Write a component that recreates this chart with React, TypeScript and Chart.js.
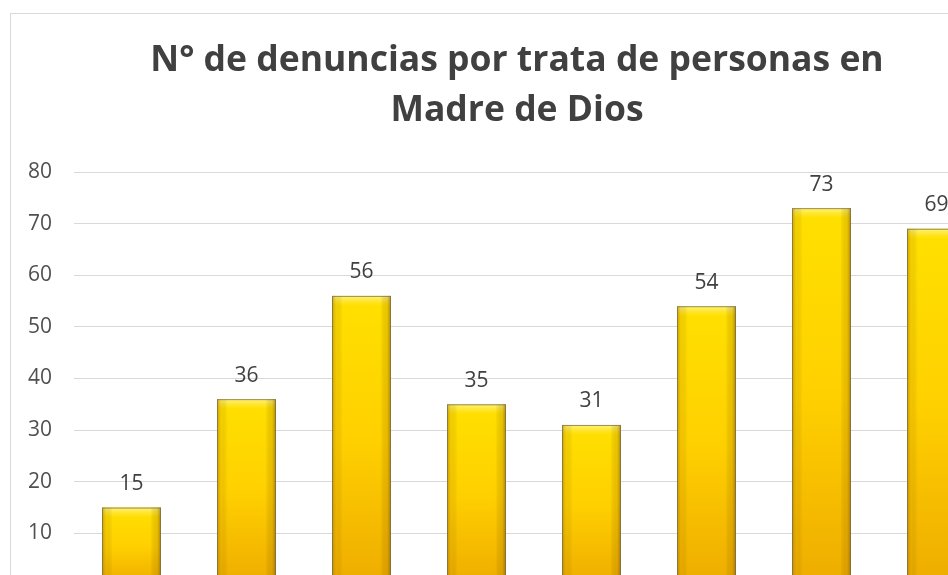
import React, { useEffect, useRef } from "react";
import { Chart, registerables } from "chart.js";

Chart.register(...registerables);

const categories = ["2010", "2011", "2012", "2013", "2014", "2015", "2016", "2017"];
const values = [15, 36, 56, 35, 31, 54, 73, 69];
const titleLines = ["N° de denuncias por trata de personas en", "Madre de Dios"];
const yMin = 0;
const yMax = 80;
const yStep = 10;

const barStyle = {
  id: "barStyle",
  afterDatasetsDraw(chart: any) {
    const ctx = chart.ctx;
    const meta = chart.getDatasetMeta(0);
    meta.data.forEach((bar: any) => {
      const { x, y, base, width } = bar.getProps(["x", "y", "base", "width"], true);
      const left = x - width / 2;
      const h = base - y;
      ctx.save();
      const vg = ctx.createLinearGradient(0, y, 0, base);
      vg.addColorStop(0, "#FFE000");
      vg.addColorStop(0.5, "#FFD000");
      vg.addColorStop(1, "#EEAC00");
      ctx.fillStyle = vg;
      ctx.fillRect(left, y, width, h);
      const tg = ctx.createLinearGradient(0, y, 0, y + 10);
      tg.addColorStop(0, "rgba(255,248,170,0.75)");
      tg.addColorStop(1, "rgba(255,240,100,0)");
      ctx.fillStyle = tg;
      ctx.fillRect(left, y, width, 10);
      const hg = ctx.createLinearGradient(left, 0, left + width, 0);
      hg.addColorStop(0, "rgba(140,95,0,0.5)");
      hg.addColorStop(0.07, "rgba(190,140,0,0.18)");
      hg.addColorStop(0.18, "rgba(0,0,0,0)");
      hg.addColorStop(0.82, "rgba(0,0,0,0)");
      hg.addColorStop(0.93, "rgba(160,110,0,0.22)");
      hg.addColorStop(1, "rgba(110,75,0,0.6)");
      ctx.fillStyle = hg;
      ctx.fillRect(left, y, width, h);
      ctx.strokeStyle = "rgba(120,110,80,0.75)";
      ctx.lineWidth = 1;
      ctx.strokeRect(left + 0.5, y + 0.5, width - 1, h);
      ctx.restore();
    });
  },
};

const dataLabels = {
  id: "dataLabels",
  afterDatasetsDraw(chart: any) {
    const ctx = chart.ctx;
    const meta = chart.getDatasetMeta(0);
    const ds = chart.data.datasets[0];
    ctx.save();
    ctx.font = "21px 'Open Sans'";
    ctx.fillStyle = "#404040";
    ctx.textAlign = "center";
    ctx.textBaseline = "alphabetic";
    meta.data.forEach((bar: any, i: number) => {
      const { x, y } = bar.getProps(["x", "y"], true);
      ctx.fillText(String(ds.data[i]), x, y - 17.5);
    });
    ctx.restore();
  },
};

export default function App() {
  const ref = useRef<HTMLCanvasElement | null>(null);
  useEffect(() => {
    if (!ref.current) return;
    const chart = new Chart(ref.current, {
      type: "bar",
      data: {
        labels: categories,
        datasets: [
          {
            data: values,
            backgroundColor: "#F8C800",
            borderWidth: 0,
            barPercentage: 0.513,
            categoryPercentage: 1,
          },
        ],
      },
      options: {
        responsive: false,
        animation: false,
        devicePixelRatio: 1,
        layout: { padding: { left: 0, right: 0, top: 0, bottom: 29 } },
        plugins: {
          legend: { display: false },
          tooltip: { enabled: false },
          title: {
            display: true,
            text: titleLines,
            color: "#404040",
            font: { family: "'Open Sans'", size: 35.5, weight: "bold", lineHeight: 50 / 35.5 },
            padding: { top: 22, bottom: 36 },
          },
        },
        scales: {
          x: {
            grid: { display: false },
            border: { display: true, color: "#d9d9d9" },
            ticks: { color: "#595959", font: { family: "'Open Sans'", size: 21 } },
            afterFit: (s: any) => {
              s.height = 40;
            },
          },
          y: {
            min: yMin,
            max: yMax,
            grid: { color: "#d9d9d9", drawTicks: false },
            border: { display: false },
            ticks: {
              stepSize: yStep,
              padding: 22,
              color: "#505050",
              font: { family: "'Open Sans'", size: 21 },
            },
            afterFit: (s: any) => {
              s.width = 63;
            },
          },
          yRight: {
            position: "right",
            min: yMin,
            max: yMax,
            grid: { display: false, drawTicks: false },
            border: { display: false },
            ticks: { display: false },
            afterFit: (s: any) => {
              s.width = 29;
            },
          },
        },
      },
      plugins: [barStyle, dataLabels],
    });
    return () => chart.destroy();
  }, []);

  return (
    <div style={{ position: "fixed", left: 0, top: 0, width: 948, height: 575, overflow: "hidden", background: "#fff" }}>
      <div
        style={{
          position: "absolute",
          left: 10,
          top: 13,
          width: 1012,
          height: 640,
          border: "1px solid #d9d9d9",
          background: "#fff",
        }}
      >
        <canvas ref={ref} width={1012} height={640} style={{ display: "block", width: 1012, height: 640 }} />
      </div>
    </div>
  );
}
